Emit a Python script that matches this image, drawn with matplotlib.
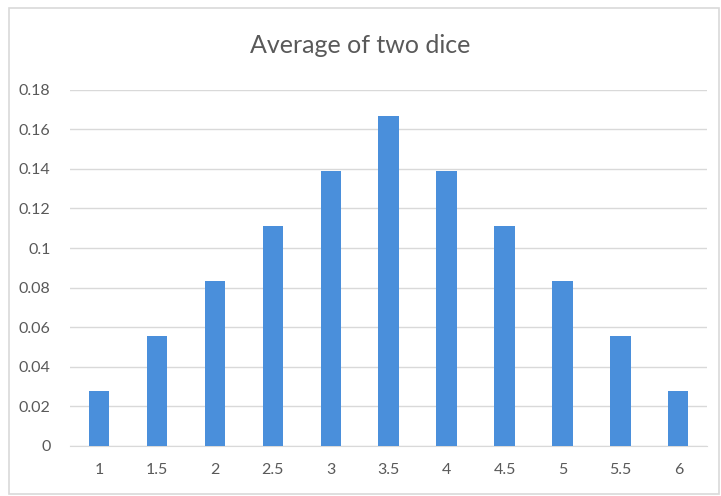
import matplotlib.pyplot as plt
from matplotlib.patches import Rectangle

# distribution of the average of two dice
averages = ['1', '1.5', '2', '2.5', '3', '3.5', '4', '4.5', '5', '5.5', '6']
probabilities = [0.0278, 0.0556, 0.0833, 0.1111, 0.1389, 0.1667,
                 0.1389, 0.1111, 0.0833, 0.0556, 0.0278]
y_ticks = [0, 0.02, 0.04, 0.06, 0.08, 0.1, 0.12, 0.14, 0.16, 0.18]

plt.rcParams['font.family'] = ['Lato', 'DejaVu Sans']

fig = plt.figure(figsize=(7.21, 4.96), dpi=100)
ax = fig.add_axes([0.097, 0.101, 0.884, 0.718])

# chart frame
fig.add_artist(Rectangle((0.013, 0.004), 0.984, 0.98, transform=fig.transFigure,
                         fill=False, ec='#d9d9d9', lw=1.2))

x = range(len(averages))
ax.bar(x, probabilities, width=0.35, color='#4a8fdb', zorder=3)

ax.set_xlim(-0.5, len(averages) - 0.5)
ax.set_ylim(0, 0.18)
ax.set_xticks(list(x))
ax.set_xticklabels(averages)
ax.set_yticks(y_ticks)
ax.set_yticklabels([f'{t:g}' for t in y_ticks])
ax.tick_params(length=0, labelsize=11.5, colors='#595959', pad=12)
ax.tick_params(axis='y', pad=14)

ax.grid(axis='y', color='#d9d9d9', lw=1, zorder=0)
for s in ['top', 'right', 'left']:
    ax.spines[s].set_visible(False)
ax.spines['bottom'].set_color('#d9d9d9')

fig.text(0.5, 0.908, 'Average of two dice', ha='center', va='center',
         fontsize=18, color='#595959')

fig.savefig('out.png')
